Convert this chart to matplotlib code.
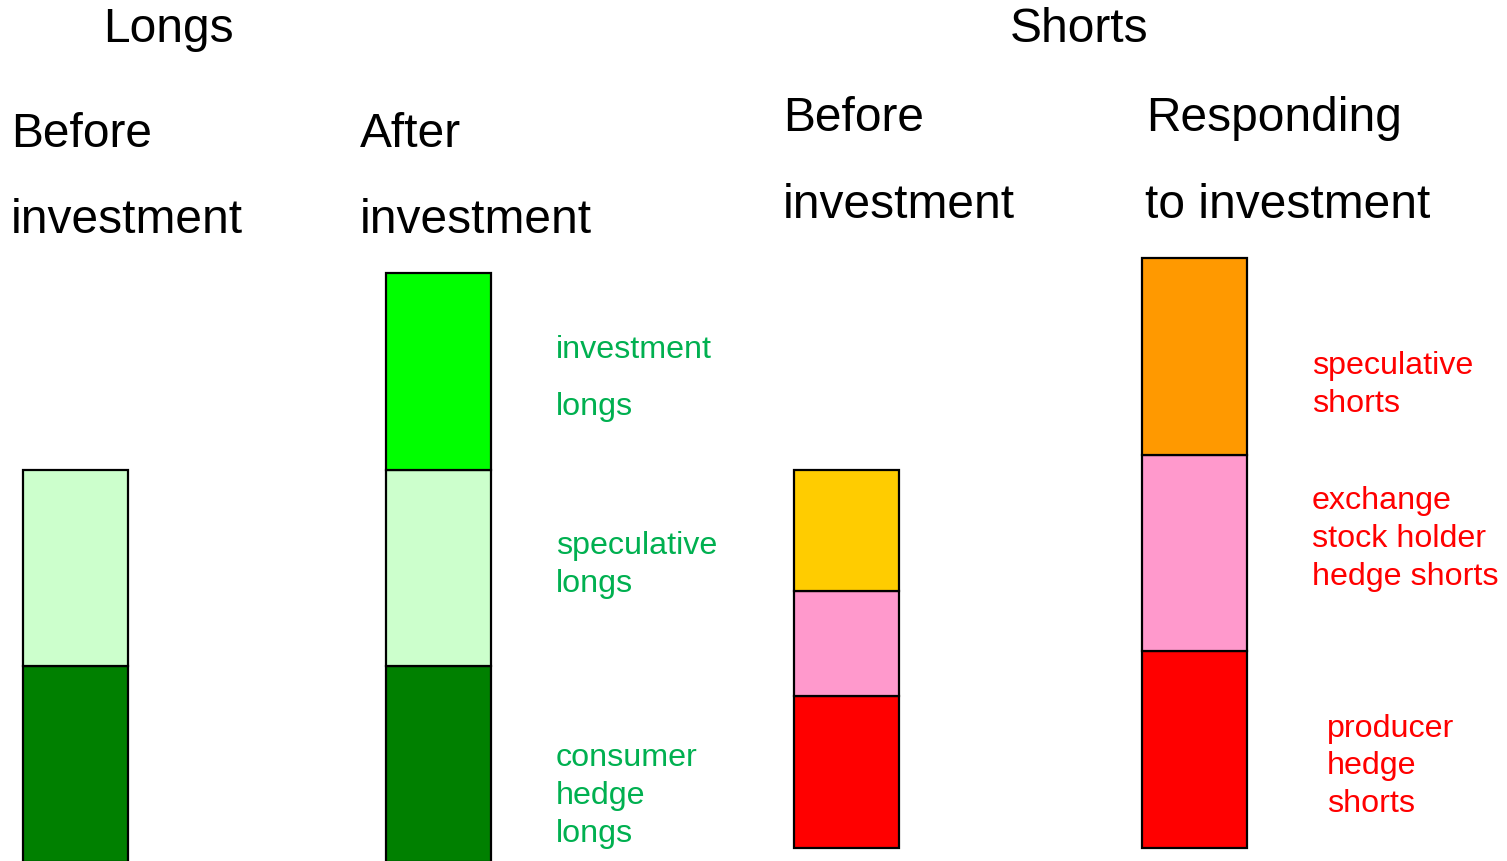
import matplotlib
matplotlib.use("Agg")
import matplotlib.pyplot as plt

plt.rcParams['font.family'] = ['Liberation Sans', 'DejaVu Sans']

W, H = 1507, 862
UNIT = 196.0  # pixels per unit of position size

# Stacked segment sizes (bottom to top), in units of one long hedge block
long_before = [1.0, 1.0]                 # consumer hedge, speculative
long_after = [1.0, 1.0, 1.005]           # consumer hedge, speculative, investment
short_before = [0.775, 0.535, 0.617]     # producer hedge, exchange stock holder hedge, speculative
short_after = [1.005, 1.0, 1.005]        # producer hedge, exchange stock holder hedge, speculative

long_colors_before = ['#008000', '#CCFFCC']
long_colors_after = ['#008000', '#CCFFCC', '#00FF00']
short_colors_before = ['#FF0000', '#FF99CC', '#FFCC00']
short_colors_after = ['#FF0000', '#FF99CC', '#FF9900']

bar_x = [75.5, 438.5, 846.5, 1194.5]
bar_base = [0.0, 0.0, 14 / UNIT, 14 / UNIT]
bar_width = 105

fig = plt.figure(figsize=(W / 100, H / 100), dpi=100)
ax = fig.add_axes([0, 0, 1, 1])
ax.set_xlim(0, W)
ax.set_ylim(0.5 / UNIT, (H + 0.5) / UNIT)
ax.axis('off')

stacks = [
    (long_before, long_colors_before),
    (long_after, long_colors_after),
    (short_before, short_colors_before),
    (short_after, short_colors_after),
]
for x, base, (sizes, colors) in zip(bar_x, bar_base, stacks):
    bottom = base
    for h, c in zip(sizes, colors):
        ax.bar(x, h, width=bar_width, bottom=bottom, color=c,
               edgecolor='black', linewidth=1.6, clip_on=False)
        bottom += h


def put(x, y, s, size, color='black'):
    fig.text(x / W, 1 - y / H, s, fontsize=size, color=color,
             ha='left', va='baseline')


HEAD = 34.5
LAB = 23.2

# Headings
put(103, 42, 'Longs', HEAD)
put(1010, 42, 'Shorts', HEAD)
put(11, 147, 'Before', HEAD)
put(11, 233, 'investment', HEAD)
put(360, 147, 'After', HEAD)
put(360, 233, 'investment', HEAD)
put(783, 131, 'Before', HEAD)
put(783, 218, 'investment', HEAD)
put(1146, 131, 'Responding', HEAD)
put(1145, 218, 'to investment', HEAD)

green = '#00B050'
red = '#FF0000'

# Long-side labels
for y, s in [(358, 'investment'), (415, 'longs'),
             (554, 'speculative'), (592, 'longs'),
             (766, 'consumer'), (804, 'hedge'), (842, 'longs')]:
    put(556, y, s, LAB, green)

# Short-side labels
for y, s in [(374, 'speculative'), (412, 'shorts'),
             (509, 'exchange'), (547, 'stock holder'), (585, 'hedge shorts')]:
    put(1312, y, s, LAB, red)
for y, s in [(737, 'producer'), (774, 'hedge'), (812, 'shorts')]:
    put(1327, y, s, LAB, red)

fig.savefig('out.png', dpi=100)
